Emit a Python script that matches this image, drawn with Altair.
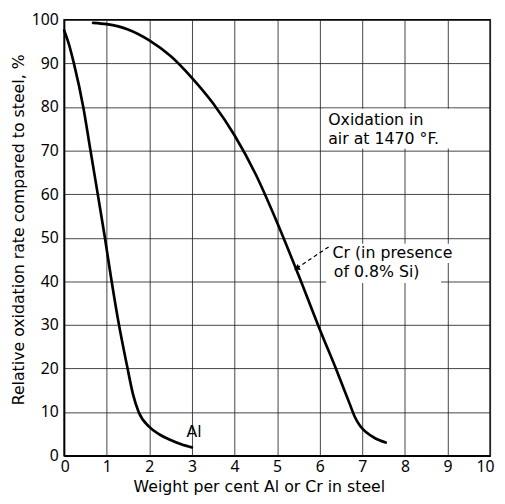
import altair as alt
import pandas as pd

# Al curve (weight % Al, relative oxidation rate %)
al_x = [0.0, 0.1, 0.23, 0.45, 0.62, 0.79, 0.95, 1.1, 1.27, 1.48, 1.62, 1.75, 2.0, 2.25, 2.5, 2.75, 3.0]
al_y = [97.6, 94.8, 90.0, 80.0, 70.0, 60.0, 50.5, 41.0, 31.0, 20.5, 14.0, 10.0, 6.6, 4.8, 3.6, 2.6, 1.9]

# Cr curve (in presence of 0.8% Si)
cr_x = [0.68, 1.0, 1.5, 2.0, 2.5, 3.0, 3.5, 4.0, 4.5, 5.0, 5.5, 6.0, 6.4, 6.7, 6.82, 6.95, 7.1, 7.3, 7.55]
cr_y = [99.3, 99.0, 97.8, 95.3, 91.7, 86.7, 80.8, 73.5, 64.5, 53.5, 41.5, 29.0, 19.5, 12.0, 9.0, 6.8, 5.3, 4.0, 3.0]

x_ticks = list(range(0, 11))
y_ticks = list(range(0, 101, 10))

# annotation texts
note_lines = ["Oxidation in", "air at 1470 °F."]
note_x = [6.2, 6.2]
note_y = [75.8, 71.6]

cr_lines = ["Cr (in presence", "of 0.8% Si)"]
cr_lab_x = [6.3, 6.33]
cr_lab_y = [45.4, 40.9]

# white boxes behind labels (data units)
box_x1 = [6.1, 6.15, 6.15]
box_x2 = [9.15, 9.25, 8.85]
box_y1 = [70.5, 44.2, 39.6]
box_y2 = [79.6, 48.6, 44.2]

# leader from Cr label to curve
leader_x = [6.21, 5.46]
leader_y = [47.9, 43.0]

al_label = ["Al"]
al_label_x = [3.05]
al_label_y = [5.4]

FONT = "Noto Sans"
TFONT = "DejaVu Sans"

xscale = alt.Scale(domain=[0, 10], nice=False, zero=False)
yscale = alt.Scale(domain=[0, 100], nice=False, zero=False)

x_axis = alt.Axis(
    values=x_ticks, grid=True, gridColor="#222222", gridWidth=1, gridOpacity=0.85,
    domainColor="black", domainWidth=1.5, tickSize=0, labelPadding=3,
    labelFont=FONT, labelFontSize=16, labelColor="black", labelFlush=True, labelFlushOffset=4,
    labelOverlap=False,
    title="Weight per cent Al or Cr in steel", titleFont=TFONT, titleFontSize=16,
    titleFontWeight="normal", titleColor="black", titleX=198, titleY=31,
    titleAlign="center", titleBaseline="middle",
)
y_axis = alt.Axis(
    values=y_ticks, grid=True, gridColor="#222222", gridWidth=1, gridOpacity=0.85,
    domainColor="black", domainWidth=1.5, tickSize=0, labelPadding=6,
    labelFont=FONT, labelFontSize=16, labelColor="black", labelFlush=False, labelOverlap=False,
    title="Relative oxidation rate compared to steel, %", titleFont=TFONT, titleFontSize=16,
    titleFontWeight="normal", titleColor="black", titleX=-46, titleY=213,
    titleAlign="center", titleBaseline="middle", titleAngle=-90,
)

al_df = pd.DataFrame({"x": al_x, "y": al_y})
cr_df = pd.DataFrame({"x": cr_x, "y": cr_y})
box_df = pd.DataFrame({"x": box_x1, "x2": box_x2, "y": box_y1, "y2": box_y2})
note_df = pd.DataFrame({"t": note_lines + cr_lines, "x": note_x + cr_lab_x, "y": note_y + cr_lab_y})
leader_df = pd.DataFrame({"x": leader_x, "y": leader_y})
tip_df = pd.DataFrame({"x": leader_x[-1:], "y": leader_y[-1:]})
al_lab_df = pd.DataFrame({"t": al_label, "x": al_label_x, "y": al_label_y})

X = alt.X("x:Q", scale=xscale, axis=x_axis)
Y = alt.Y("y:Q", scale=yscale, axis=y_axis)

boxes = alt.Chart(box_df).mark_rect(color="white").encode(x=X, x2="x2:Q", y=Y, y2="y2:Q")

al_line = alt.Chart(al_df).mark_line(
    color="black", strokeWidth=2.7, interpolate="monotone", strokeCap="round"
).encode(x=X, y=Y)

cr_line = alt.Chart(cr_df).mark_line(
    color="black", strokeWidth=2.7, interpolate="monotone", strokeCap="round"
).encode(x=X, y=Y)

notes = alt.Chart(note_df).mark_text(
    align="left", baseline="alphabetic", font=TFONT, fontSize=16, color="black"
).encode(x=X, y=Y, text="t:N")

leader = alt.Chart(leader_df).mark_line(
    color="black", strokeWidth=1.2, strokeDash=[4, 3]
).encode(x=X, y=Y)

tip = alt.Chart(tip_df).mark_point(
    shape="triangle-left", angle=333, size=45, filled=True, color="black", opacity=1
).encode(x=X, y=Y)

al_text = alt.Chart(al_lab_df).mark_text(
    align="center", baseline="middle", font=TFONT, fontSize=16, color="black"
).encode(x=X, y=Y, text="t:N")

chart = alt.layer(boxes, al_line, cr_line, notes, leader, tip, al_text).properties(
    width=433,
    height=443,
    autosize=alt.AutoSizeParams(type="none"),
    padding={"left": 57, "top": 8, "right": 7, "bottom": 37},
    background="white",
).configure_view(stroke="black", strokeWidth=1.5)

chart.save("out.html", embed_options={"renderer": "svg", "actions": False})
